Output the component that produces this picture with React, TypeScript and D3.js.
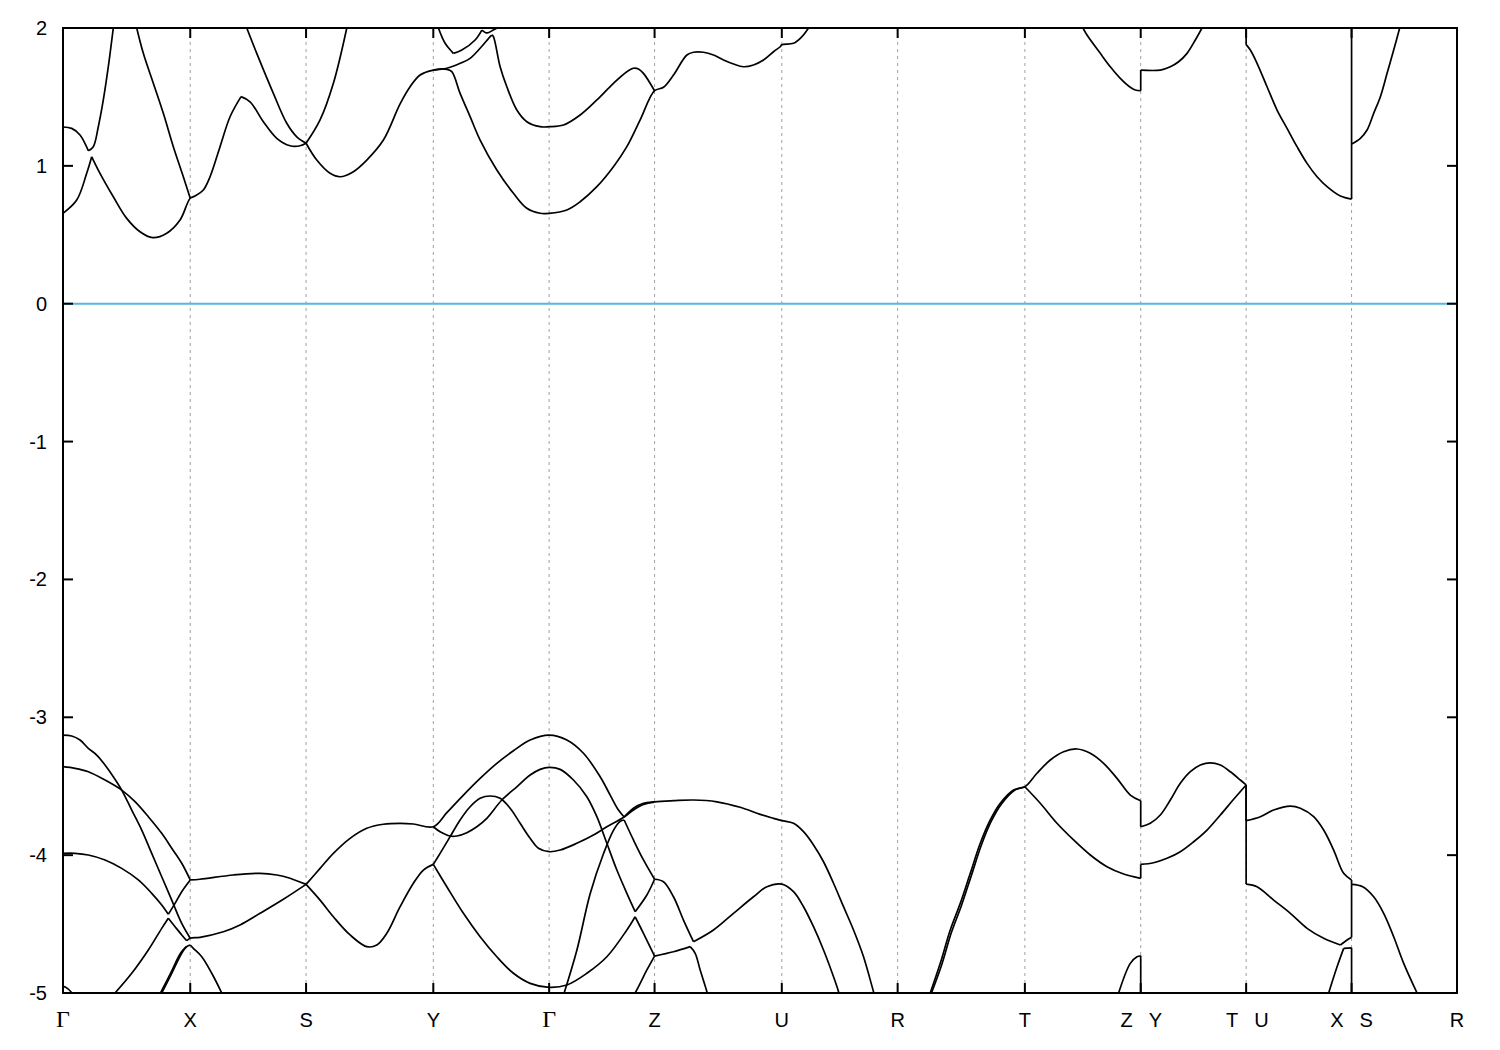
import React from "react";
import * as d3 from "d3";

type Pt = [number, number];

// High-symmetry points along the k-path (path length, arbitrary units)
const kTicks = [0, 1.272, 2.43, 3.702, 4.86, 5.914, 7.186, 8.344, 9.616, 10.774, 11.828, 12.882, 13.936];
const kLabels = ["Γ", "X", "S", "Y", "Γ", "Z", "U", "R", "T", "Z|Y", "T|U", "X|S", "R"];
const energyTicks = [-5, -4, -3, -2, -1, 0, 1, 2];
const energyRange: Pt = [-5, 2];
const fermiLevel = 0;

// ---------- conduction bands (eV) ----------
const cbA: Pt[] = [
  [0, 0.656], [0.137, 0.752], [0.237, 0.946], [0.287, 1.066], [0.37, 0.946], [0.503, 0.776], [0.637, 0.619],
  [0.77, 0.522], [0.897, 0.479], [1.037, 0.511], [1.17, 0.607], [1.272, 0.765],
  [1.32, 0.781], [1.403, 0.825], [1.47, 0.921], [1.57, 1.139], [1.67, 1.356], [1.78, 1.502], [1.87, 1.465],
  [2.003, 1.32], [2.137, 1.2], [2.27, 1.146], [2.37, 1.146], [2.43, 1.164],
  [2.537, 1.042], [2.67, 0.946], [2.77, 0.921], [2.903, 0.958], [3.037, 1.042], [3.203, 1.187], [3.37, 1.45],
  [3.47, 1.574], [3.57, 1.659], [3.702, 1.695], [3.837, 1.7],
  [3.887, 1.683], [3.97, 1.526], [4.07, 1.357], [4.17, 1.187], [4.337, 0.97], [4.503, 0.801], [4.637, 0.692],
  [4.77, 0.656], [4.86, 0.656],
  [5.037, 0.68], [5.17, 0.74], [5.337, 0.849], [5.503, 0.994], [5.637, 1.139], [5.77, 1.333], [5.914, 1.545],
  [6.003, 1.57], [6.103, 1.659], [6.237, 1.804], [6.303, 1.824], [6.403, 1.824], [6.503, 1.804], [6.603, 1.768],
  [6.703, 1.739], [6.803, 1.719], [6.903, 1.732], [7.003, 1.768], [7.103, 1.828], [7.17, 1.864], [7.186, 1.879],
  [7.303, 1.889], [7.387, 1.937], [7.453, 2.0],
];
const cbB: Pt[] = [
  [0, 1.282], [0.087, 1.272], [0.17, 1.224], [0.253, 1.11], [0.303, 1.139], [0.353, 1.284], [0.403, 1.478],
  [0.453, 1.719], [0.503, 2.0],
];
const cbC: Pt[] = [
  [0.737, 2.0], [0.803, 1.816], [0.903, 1.599], [1.003, 1.381], [1.103, 1.139], [1.203, 0.921], [1.272, 0.765],
];
const cbD: Pt[] = [
  [1.837, 2.0], [1.937, 1.816], [2.103, 1.526], [2.237, 1.309], [2.337, 1.211], [2.43, 1.164], [2.57, 1.333],
  [2.703, 1.599], [2.837, 2.0],
];
const cbE: Pt[] = [
  [3.702, 1.695], [3.837, 1.708], [3.97, 1.744], [4.07, 1.78], [4.17, 1.853], [4.27, 1.937], [4.287, 1.949],
  [4.303, 1.937], [4.37, 1.719], [4.437, 1.574], [4.537, 1.405], [4.637, 1.32], [4.77, 1.284], [4.86, 1.284],
  [5.003, 1.296], [5.17, 1.369], [5.337, 1.478], [5.503, 1.599], [5.637, 1.683], [5.703, 1.708], [5.753, 1.703],
  [5.803, 1.671], [5.914, 1.545],
];
const cbF: Pt[] = [
  [3.753, 2.0], [3.82, 1.889], [3.903, 1.816], [3.987, 1.84], [4.12, 1.913], [4.187, 1.985], [4.24, 1.964],
  [4.3, 1.985], [4.34, 2.0],
];
const cbG: Pt[] = [
  [10.197, 2.0], [10.237, 1.949], [10.37, 1.816], [10.47, 1.719], [10.57, 1.635], [10.67, 1.57], [10.72, 1.55],
  [10.774, 1.545], [10.774, 1.695], [10.97, 1.695], [11.07, 1.719], [11.153, 1.755], [11.237, 1.816],
  [11.32, 1.913], [11.387, 2.0],
];
const cbH: Pt[] = [
  [11.828, 2.0], [11.828, 1.879], [11.87, 1.84], [11.937, 1.744], [12.037, 1.574], [12.137, 1.405], [12.237, 1.272],
  [12.337, 1.139], [12.437, 1.018], [12.537, 0.921], [12.637, 0.849], [12.77, 0.781], [12.882, 0.759], [12.882, 2.0],
];
const cbI: Pt[] = [
  [12.882, 1.158], [12.97, 1.2], [13.037, 1.26], [13.103, 1.381], [13.17, 1.502], [13.237, 1.671], [13.303, 1.84],
  [13.363, 2.0],
];

// ---------- valence bands (eV) ----------
const vbA: Pt[] = [
  [0, -3.129], [0.087, -3.136], [0.17, -3.165], [0.253, -3.225], [0.337, -3.274], [0.42, -3.346], [0.503, -3.431],
  [0.587, -3.528], [0.687, -3.673], [0.787, -3.818], [0.887, -3.987], [0.987, -4.157], [1.087, -4.326],
  [1.187, -4.495], [1.272, -4.603],
];
const vbB: Pt[] = [
  [0, -3.358], [0.12, -3.37], [0.253, -3.395], [0.42, -3.455], [0.587, -3.528], [0.72, -3.612], [0.853, -3.721],
  [0.987, -3.842], [1.087, -3.95], [1.187, -4.059], [1.272, -4.18],
  [1.37, -4.175], [1.703, -4.144], [1.97, -4.132], [2.137, -4.144], [2.27, -4.168], [2.43, -4.212],
  [2.57, -4.096], [2.703, -3.987], [2.87, -3.878], [3.037, -3.805], [3.203, -3.776], [3.37, -3.769],
  [3.503, -3.774], [3.702, -3.794],
  [3.837, -3.692], [4.003, -3.564], [4.17, -3.443], [4.337, -3.334], [4.503, -3.243], [4.67, -3.165], [4.86, -3.129],
  [5.037, -3.165], [5.203, -3.261], [5.37, -3.431], [5.47, -3.564], [5.553, -3.673], [5.61, -3.723],
  [5.703, -3.66], [5.803, -3.624], [5.914, -3.613],
  [6.103, -3.605], [6.303, -3.6], [6.537, -3.613], [6.77, -3.653], [6.97, -3.704], [7.103, -3.733], [7.186, -3.75],
  [7.303, -3.769], [7.403, -3.83], [7.503, -3.926], [7.603, -4.048], [7.703, -4.204], [7.803, -4.374],
  [7.903, -4.543], [8.003, -4.737], [8.103, -4.991], [8.115, -5.02],
];
const vbC: Pt[] = [
  [0, -3.987], [0.12, -3.987], [0.253, -3.999], [0.42, -4.035], [0.587, -4.096], [0.753, -4.18], [0.887, -4.277],
  [0.987, -4.362], [1.053, -4.429], [1.12, -4.35], [1.187, -4.265], [1.272, -4.18],
];
const vbD: Pt[] = [
  [0.52, -5.0], [0.687, -4.857], [0.853, -4.688], [0.987, -4.531], [1.053, -4.458], [1.12, -4.519], [1.187, -4.579],
  [1.237, -4.621], [1.272, -4.603],
  [1.37, -4.596], [1.603, -4.556], [1.77, -4.507], [1.97, -4.422], [2.203, -4.32], [2.43, -4.212],
  [2.57, -4.326], [2.703, -4.447], [2.87, -4.579], [3.037, -4.664], [3.137, -4.652], [3.237, -4.567], [3.37, -4.374],
  [3.503, -4.204], [3.603, -4.108], [3.702, -4.067],
  [3.837, -4.229], [4.003, -4.422], [4.17, -4.592], [4.337, -4.737], [4.503, -4.857], [4.67, -4.93], [4.86, -4.959],
  [5.037, -4.942], [5.237, -4.857], [5.437, -4.737], [5.637, -4.543], [5.72, -4.447], [5.803, -4.567], [5.914, -4.732],
  [6.103, -4.701], [6.27, -4.664], [6.32, -4.712], [6.37, -4.834], [6.437, -4.991], [6.445, -5.02],
];
const vbE: Pt[] = [
  [3.702, -3.794], [3.77, -3.83], [3.87, -3.861], [3.937, -3.861], [4.037, -3.837], [4.137, -3.794], [4.237, -3.733],
  [4.387, -3.6], [4.537, -3.504], [4.67, -3.419], [4.77, -3.378], [4.86, -3.363],
  [4.97, -3.378], [5.103, -3.455], [5.237, -3.576], [5.337, -3.721], [5.437, -3.914], [5.537, -4.108], [5.637, -4.277],
  [5.72, -4.41], [5.837, -4.289], [5.914, -4.175],
  [6.003, -4.193], [6.103, -4.302], [6.203, -4.471], [6.303, -4.628], [6.503, -4.543], [6.703, -4.422],
  [6.903, -4.302], [7.037, -4.229], [7.186, -4.21], [7.303, -4.265], [7.403, -4.374], [7.503, -4.519],
  [7.603, -4.688], [7.703, -4.882], [7.753, -4.991], [7.76, -5.02],
];
const vbF: Pt[] = [
  [3.702, -4.067], [3.77, -3.987], [3.87, -3.866], [3.97, -3.745], [4.07, -3.649], [4.17, -3.588], [4.27, -3.571],
  [4.37, -3.588], [4.47, -3.66], [4.57, -3.769], [4.67, -3.878], [4.753, -3.95], [4.86, -3.975],
  [4.97, -3.963], [5.137, -3.914], [5.303, -3.854], [5.437, -3.794], [5.61, -3.723], [5.703, -3.672],
  [5.803, -3.632], [5.914, -3.615],
];
const vbG: Pt[] = [
  [5.01, -5.0], [5.137, -4.69], [5.27, -4.28], [5.403, -3.99], [5.503, -3.82], [5.57, -3.755], [5.61, -3.745],
  [5.703, -3.89], [5.803, -4.035], [5.914, -4.175],
];
const vbH: Pt[] = [[0, -4.95], [0.05, -4.97], [0.09, -5.0], [0.11, -5.02]];
const vbI: Pt[] = [
  [0.987, -5.0], [1.087, -4.857], [1.187, -4.712], [1.237, -4.664], [1.272, -4.652], [1.303, -4.676],
  [1.387, -4.737], [1.487, -4.857], [1.587, -5.0],
];
const vbI2: Pt[] = [[0.975, -5.0], [1.075, -4.857], [1.175, -4.712], [1.232, -4.664]];
const vbJ: Pt[] = [[5.72, -5.0], [5.77, -4.93], [5.837, -4.833], [5.914, -4.732]];
const vbK: Pt[] = [
  [8.67, -5.0], [8.77, -4.785], [8.87, -4.543], [8.97, -4.35], [9.07, -4.132], [9.17, -3.914], [9.27, -3.745],
  [9.37, -3.624], [9.503, -3.528], [9.616, -3.504],
  [9.737, -3.406], [9.87, -3.31], [10.003, -3.25], [10.137, -3.23], [10.27, -3.261], [10.403, -3.334],
  [10.537, -3.443], [10.67, -3.564], [10.774, -3.605],
  [10.774, -3.794], [10.87, -3.769], [10.97, -3.709], [11.07, -3.6], [11.17, -3.479], [11.27, -3.395],
  [11.37, -3.346], [11.47, -3.33], [11.57, -3.346], [11.67, -3.395], [11.77, -3.455], [11.828, -3.491],
  [11.828, -3.75], [11.97, -3.721], [12.103, -3.673], [12.27, -3.644], [12.37, -3.66], [12.503, -3.721],
  [12.603, -3.818], [12.703, -3.963], [12.803, -4.132], [12.882, -4.18],
  [12.882, -4.212], [12.993, -4.229], [13.103, -4.302], [13.203, -4.422], [13.303, -4.592], [13.403, -4.785],
  [13.537, -5.0],
];
const vbK2: Pt[] = [
  [8.682, -5.0], [8.782, -4.8], [8.882, -4.56], [8.982, -4.365], [9.082, -4.145], [9.182, -3.925], [9.28, -3.754],
  [9.38, -3.63], [9.51, -3.531], [9.616, -3.504],
];
const vbL: Pt[] = [
  [9.616, -3.504], [9.77, -3.624], [9.937, -3.769], [10.103, -3.89], [10.27, -3.999], [10.437, -4.084],
  [10.603, -4.137], [10.774, -4.168],
  [10.774, -4.067], [10.903, -4.055], [11.037, -4.023], [11.17, -3.975], [11.303, -3.903], [11.437, -3.818],
  [11.57, -3.709], [11.703, -3.595], [11.828, -3.491],
  [11.828, -4.21], [11.937, -4.229], [12.103, -4.326], [12.27, -4.422], [12.437, -4.531], [12.603, -4.603],
  [12.77, -4.652], [12.837, -4.616], [12.882, -4.596], [12.882, -4.212],
];
const vbM: Pt[] = [[10.553, -5.0], [10.67, -4.785], [10.737, -4.737], [10.774, -4.73], [10.774, -5.02]];
const vbN: Pt[] = [[12.653, -5.0], [12.737, -4.81], [12.803, -4.676], [12.882, -4.672], [12.882, -5.02]];

const conductionBands = [cbA, cbB, cbC, cbD, cbE, cbF, cbG, cbH, cbI];
const valenceBands = [vbA, vbB, vbC, vbD, vbE, vbF, vbG, vbH, vbI, vbI2, vbJ, vbK, vbK2, vbL, vbM, vbN];

type Run = { pts: [number, number][]; jump: boolean };

// Convert a band to pixel space, then split into smooth runs at vertical jumps and sharp kinks
function splitRuns(px: [number, number][]): Run[] {
  const out: Run[] = [];
  let cur: [number, number][] = [px[0]];
  for (let i = 1; i < px.length; i++) {
    const a = px[i - 1], b = px[i];
    if (Math.abs(a[0] - b[0]) < 1e-6) {
      if (cur.length > 1) out.push({ pts: cur, jump: false });
      out.push({ pts: [a, b], jump: true });
      cur = [b];
      continue;
    }
    cur.push(b);
    if (i < px.length - 1) {
      const c = px[i + 1];
      if (Math.abs(c[0] - b[0]) > 1e-6) {
        const a1 = Math.atan2(b[1] - a[1], b[0] - a[0]);
        const a2 = Math.atan2(c[1] - b[1], c[0] - b[0]);
        let d = Math.abs(a2 - a1);
        if (d > Math.PI) d = 2 * Math.PI - d;
        if (d > (55 * Math.PI) / 180) {
          out.push({ pts: cur, jump: false });
          cur = [b];
        }
      }
    }
  }
  if (cur.length > 1) out.push({ pts: cur, jump: false });
  return out;
}

export default function App() {
  const W = 1500;
  const H = 1050;
  const left = 63, right = 1457, top = 28, bottom = 993;
  const x = d3.scaleLinear().domain([kTicks[0], kTicks[kTicks.length - 1]]).range([left, right]);
  const y = d3.scaleLinear().domain(energyRange).range([bottom, top]);
  const smooth = d3.line<[number, number]>().curve(d3.curveCatmullRom.alpha(0.5));
  const straight = d3.line<[number, number]>();
  const bands = [...conductionBands, ...valenceBands];
  const sans = "'Liberation Sans', Arial, sans-serif";
  const serif = "'Liberation Serif', 'Times New Roman', serif";
  const fs = 20;
  const labelY = 1027;

  return (
    <svg width={W} height={H} style={{ position: "absolute", left: 0, top: 0, display: "block" }}>
      <defs>
        <clipPath id="plotArea">
          <rect x={left} y={top} width={right - left} height={bottom - top} />
        </clipPath>
      </defs>
      <rect x={0} y={0} width={W} height={H} fill="#ffffff" />
      {kTicks.slice(1, -1).map((k, i) => (
        <line key={"g" + i} x1={x(k)} x2={x(k)} y1={top} y2={bottom} stroke="#a0a0a0" strokeWidth={1} strokeDasharray="3,4" />
      ))}
      <line x1={left} x2={right} y1={y(fermiLevel)} y2={y(fermiLevel)} stroke="#56b4e9" strokeWidth={2} />
      <g clipPath="url(#plotArea)" fill="none" stroke="#000" strokeWidth={1.7} strokeLinejoin="round">
        {bands.map((b, i) => {
          const px = b.map((d) => [x(d[0]), y(d[1])] as [number, number]);
          return splitRuns(px).map((r, j) => (
            <path key={"b" + i + "_" + j} d={(r.jump || r.pts.length < 3 ? straight(r.pts) : smooth(r.pts)) || ""} />
          ));
        })}
      </g>
      <rect x={left} y={top} width={right - left} height={bottom - top} fill="none" stroke="#000" strokeWidth={2} />
      {energyTicks.map((e) => (
        <g key={"yt" + e}>
          <line x1={left} x2={left + 10} y1={y(e)} y2={y(e)} stroke="#000" strokeWidth={2} />
          <line x1={right - 10} x2={right} y1={y(e)} y2={y(e)} stroke="#000" strokeWidth={2} />
          <text x={47} y={y(e) + 7} textAnchor="end" fontFamily={sans} fontSize={fs} fill="#000">
            {String(e)}
          </text>
        </g>
      ))}
      {kTicks.map((k, i) => (
        <g key={"xt" + i}>
          <line x1={x(k)} x2={x(k)} y1={top} y2={top + 10} stroke="#000" strokeWidth={2} />
          <line x1={x(k)} x2={x(k)} y1={bottom - 10} y2={bottom} stroke="#000" strokeWidth={2} />
        </g>
      ))}
      {kLabels.map((lab, i) => {
        const px = x(kTicks[i]);
        if (lab.includes("|")) {
          const [a, b] = lab.split("|");
          return (
            <g key={"xl" + i}>
              <text x={px - 8} y={labelY} textAnchor="end" fontFamily={sans} fontSize={fs} fill="#000">{a}</text>
              <text x={px + 8} y={labelY} textAnchor="start" fontFamily={sans} fontSize={fs} fill="#000">{b}</text>
            </g>
          );
        }
        const isGamma = lab === "Γ";
        return (
          <text key={"xl" + i} x={px} y={labelY} textAnchor="middle" fontFamily={isGamma ? serif : sans} fontSize={isGamma ? 24 : fs} fill="#000">
            {lab}
          </text>
        );
      })}
    </svg>
  );
}
